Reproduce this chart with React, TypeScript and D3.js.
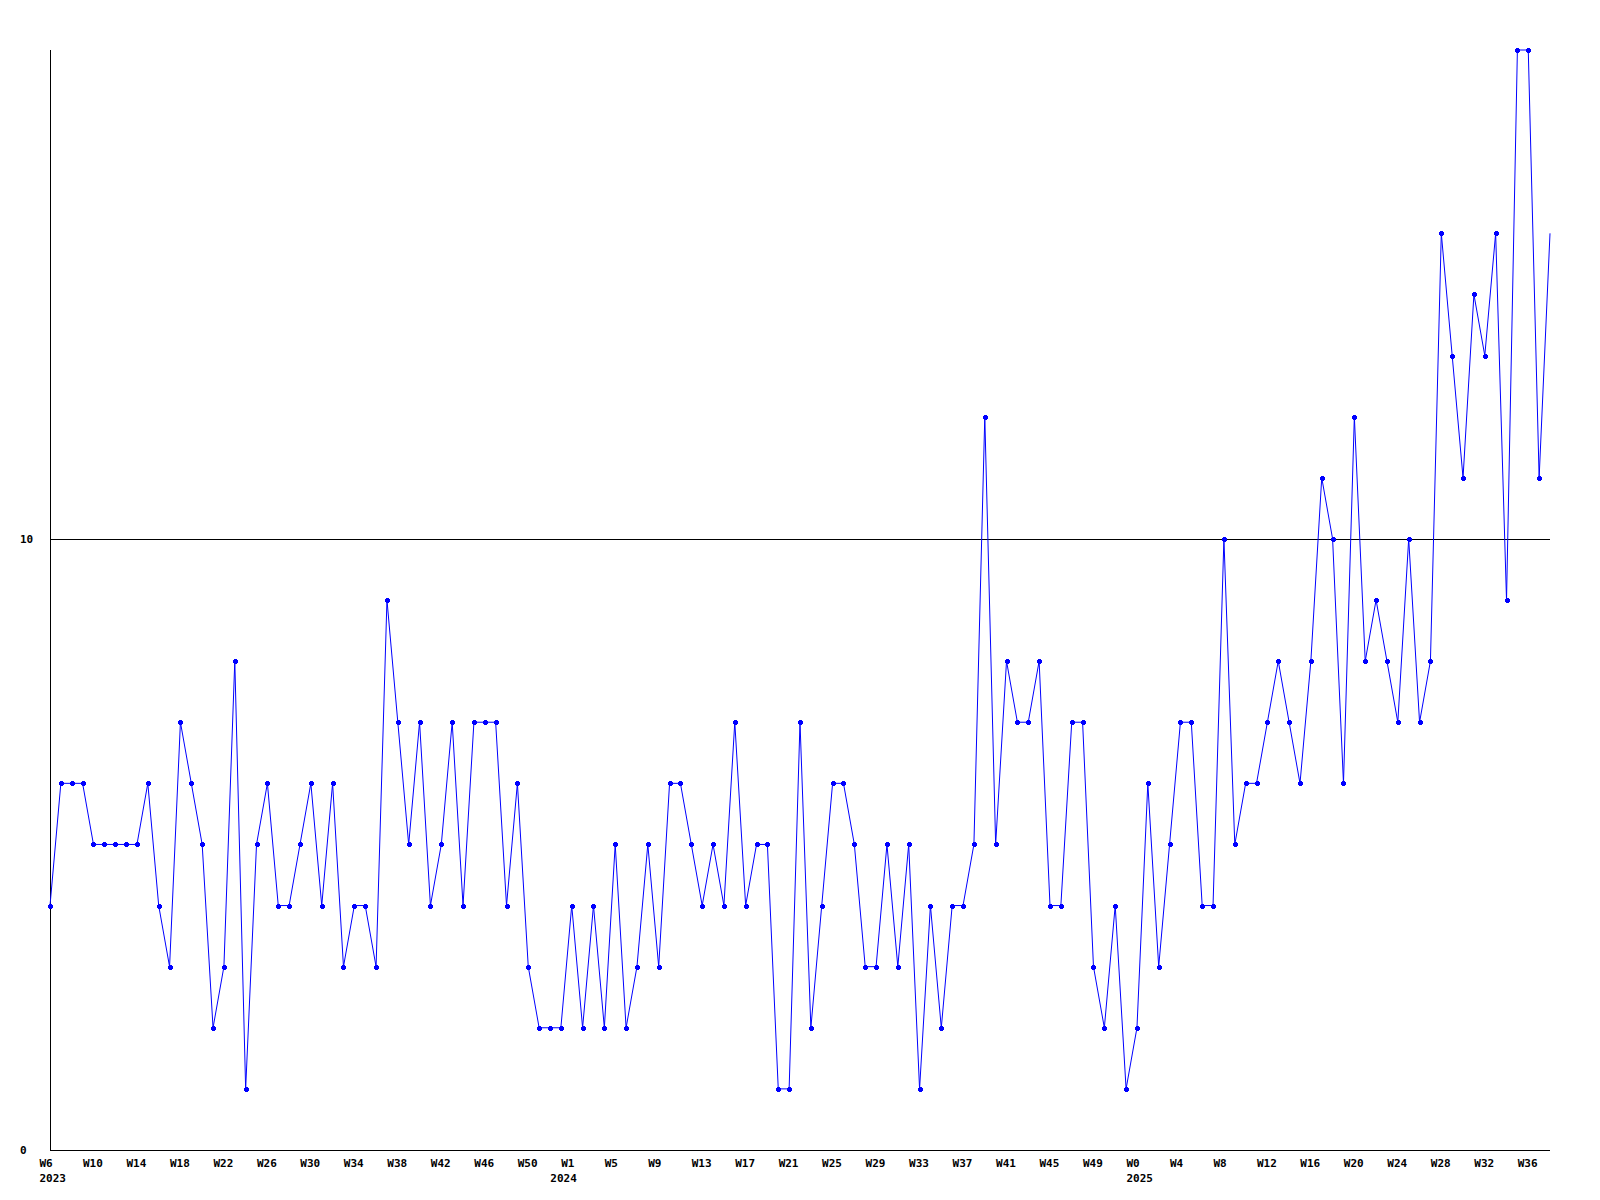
import React from "react";
import * as d3 from "d3";

// Weekly counts, 2023-W6 .. 2025-W38
const values: number[] = [
  4, 6, 6, 6, 5, 5, 5, 5, 5, 6, 4, 3, 7, 6, 5, 2, 3, 8, 1, 5,
  6, 4, 4, 5, 6, 4, 6, 3, 4, 4, 3, 9, 7, 5, 7, 4, 5, 7, 4, 7,
  7, 7, 4, 6, 3, 2, 2, 2, 4, 2, 4, 2, 5, 2, 3, 5, 3, 6, 6, 5,
  4, 5, 4, 7, 4, 5, 5, 1, 1, 7, 2, 4, 6, 6, 5, 3, 3, 5, 3, 5,
  1, 4, 2, 4, 4, 5, 12, 5, 8, 7, 7, 8, 4, 4, 7, 7, 3, 2, 4, 1,
  2, 6, 3, 5, 7, 7, 4, 4, 10, 5, 6, 6, 7, 8, 7, 6, 8, 11, 10, 6,
  12, 8, 9, 8, 7, 10, 7, 8, 15, 13, 11, 14, 13, 15, 9, 18, 18, 11, 15,
];

// Week ranges per year (week numbers start at W0 in each new year)
const yearNames: number[] = [2023, 2024, 2025];
const yearFirstWeek: number[] = [6, 0, 0];
const yearLastWeek: number[] = [52, 52, 38];

const yTicks: number[] = [0, 10];
const yMax = 18;
const tickEvery = 4;

type Cat = { key: string; year: number; week: number; first: boolean };
const categories: Cat[] = [];
yearNames.forEach((y, yi) => {
  for (let w = yearFirstWeek[yi]; w <= yearLastWeek[yi]; w++) {
    categories.push({ key: `${y}-W${w}`, year: y, week: w, first: w === yearFirstWeek[yi] });
  }
});

const W = 1600;
const H = 1200;
const left = 50;
const right = 1550;
const top = 50;
const bottom = 1150;
const FONT = "'DejaVu Sans Mono', 'Liberation Mono', monospace";

export default function App() {
  const x = d3.scalePoint<string>().domain(categories.map((c) => c.key)).range([left, right]);
  const y = d3.scaleLinear().domain([0, yMax]).range([bottom, top]);
  const data = values.map((v, i) => ({ key: categories[i].key, v }));
  const line = d3
    .line<{ key: string; v: number }>()
    .x((d) => x(d.key)!)
    .y((d) => y(d.v));

  return (
    <svg
      width={W}
      height={H}
      style={{ position: "absolute", left: 0, top: 0, background: "#fff" }}
      shapeRendering="crispEdges"
    >
      <rect x={0} y={0} width={W} height={H} fill="#fff" />
      {/* grid line at 10 */}
      {yTicks.filter((t) => t > 0).map((t) => (
        <line key={t} x1={left} x2={right} y1={Math.round(y(t)) + 0.5} y2={Math.round(y(t)) + 0.5} stroke="#000" />
      ))}
      {/* axes */}
      <line x1={left + 0.5} x2={left + 0.5} y1={top} y2={bottom + 0.5} stroke="#000" />
      <line x1={left} x2={right} y1={bottom + 0.5} y2={bottom + 0.5} stroke="#000" />
      {/* y labels */}
      {yTicks.map((t) => (
        <text key={t} x={20} y={y(t) + 4} fontFamily={FONT} fontWeight="bold" fontSize={11} fill="#000">
          {t}
        </text>
      ))}
      {/* x labels */}
      {categories.map((c, i) =>
        i % tickEvery === 0 ? (
          <text key={c.key} x={x(c.key)! - 10.5} y={1167} fontFamily={FONT} fontWeight="bold" fontSize={11} fill="#000">
            {`W${c.week}`}
          </text>
        ) : null
      )}
      {categories.map((c) =>
        c.first ? (
          <text key={"y" + c.key} x={x(c.key)! - 10.5} y={1182} fontFamily={FONT} fontWeight="bold" fontSize={11} fill="#000">
            {c.year}
          </text>
        ) : null
      )}
      {/* series */}
      <path d={line(data) || ""} fill="none" stroke="#0000ff" strokeWidth={1} shapeRendering="auto" />
      {data.slice(0, data.length - 1).map((d) => {
        const cx = Math.round(x(d.key)!);
        const cy = Math.round(y(d.v));
        return (
          <g key={d.key} transform={`translate(${cx},${cy})`}>
            <rect x={-2} y={-1} width={5} height={3} fill="#0000ff" />
            <rect x={-1} y={-2} width={3} height={5} fill="#0000ff" />
          </g>
        );
      })}
    </svg>
  );
}
